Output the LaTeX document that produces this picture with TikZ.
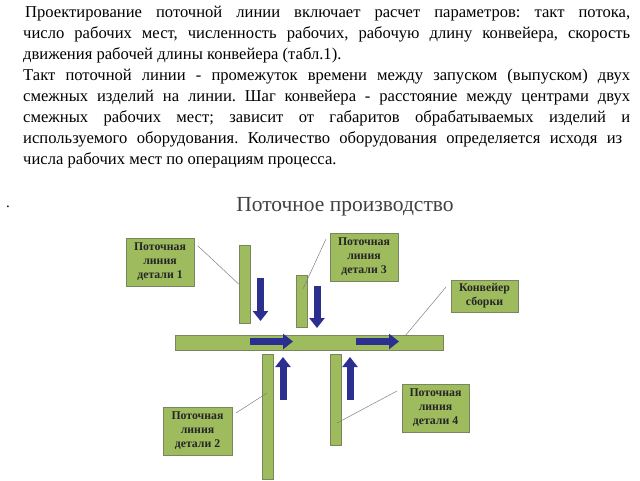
\documentclass[tikz,border=0pt]{standalone}
\usepackage{fontspec}
\setmainfont{Liberation Serif}
\usetikzlibrary{arrows.meta}

\definecolor{barGreen}{HTML}{9EBB5E}
\definecolor{barEdge}{HTML}{77865F}
\definecolor{flowBlue}{HTML}{2B2F8F}
\definecolor{titleGray}{HTML}{404040}

\tikzset{
	bar/.style={draw=barEdge, fill=barGreen, line width=0.8pt, inner sep=0pt},
	labelbox/.style={draw=barEdge, fill=barGreen, line width=0.8pt, inner sep=0pt,
		align=center, font=\fontsize{11.8}{14}\selectfont\bfseries, text=black!85},
	flow/.style={flowBlue, line width=7pt, -{Triangle[length=10pt,width=15pt]}},
	callout/.style={gray, line width=0.5pt}
}

\begin{document}
\frenchspacing
\begin{tikzpicture}[x=1pt, y=-1pt]
	\useasboundingbox (0,0) rectangle (640,480);
	
	% Text above the diagram
	\node[anchor=north west, inner sep=0pt] (intro) at (23,6) {\parbox{607pt}{%
		\fontsize{16.6}{21}\selectfont
		\hspace*{2pt}Проектирование поточной линии включает расчет параметров: такт потока,\linebreak
		число рабочих мест, численность рабочих, рабочую длину конвейера, скорость\linebreak
		движения рабочей длины конвейера (табл.1).\\
		Такт поточной линии - промежуток времени между запуском (выпуском) двух\linebreak
		смежных изделий на линии. Шаг конвейера - расстояние между центрами двух\linebreak
		смежных рабочих мест; зависит от габаритов обрабатываемых изделий и\linebreak
		используемого оборудования. Количество оборудования определяется исходя из\hspace*{8pt}\linebreak
		числа рабочих мест по операциям процесса.}};
	\node[font=\fontsize{15}{18}\selectfont] (dot) at (8,207) {.};
	
	% Title
	\node[font=\fontsize{21.5}{24}\selectfont, text=titleGray] (title) at (345,207) {Поточное производство};
	
	% Conveyor and lines
	\node[bar, minimum width=268pt, minimum height=15pt] (conv) at (309,342.5) {};
	\node[bar, minimum width=11pt, minimum height=78pt] (line1) at (244.5,284) {};
	\node[bar, minimum width=11pt, minimum height=52pt] (line3) at (301.5,301) {};
	\node[bar, minimum width=11pt, minimum height=125pt] (line2) at (267.5,416.5) {};
	\node[bar, minimum width=11pt, minimum height=91pt] (line4) at (335.5,399.5) {};
	
	% Flow arrows
	\draw[flow] (260.5,278) -- (260.5,321);
	\draw[flow] (317,286) -- (317,328);
	\draw[flow] (283,400) -- (283,357);
	\draw[flow] (350,400) -- (350,357);
	\draw[flow] (250,341.5) -- (293,341.5);
	\draw[flow] (356,341.5) -- (399,341.5);
	
	% Labels
	\node[labelbox, minimum width=68pt, minimum height=48pt] (lab1) at (160,262) {Поточная\\линия\\детали 1};
	\node[labelbox, minimum width=68pt, minimum height=48pt] (lab3) at (364,257) {Поточная\\линия\\детали 3};
	\node[labelbox, minimum width=67pt, minimum height=32pt] (labc) at (484.5,296) {Конвейер\\сборки};
	\node[labelbox, minimum width=69pt, minimum height=48pt] (lab2) at (197.5,431) {Поточная\\линия\\детали 2};
	\node[labelbox, minimum width=67pt, minimum height=48pt] (lab4) at (435.5,408) {Поточная\\линия\\детали 4};
	
	% Callouts
	\coordinate (c1) at (198,246);
	\coordinate (c3) at (326,239);
	\coordinate (cc) at (446,287);
	\coordinate (c2) at (236,413);
	\coordinate (c4) at (397,391);
	\coordinate (p3) at (303,289);
	\coordinate (pc) at (405,336);
	\coordinate (p2) at (267,393);
	\coordinate (p4) at (337,423);
	\draw[callout] (c1) -- (line1.west);
	\draw[callout] (c3) -- (p3);
	\draw[callout] (cc) -- (pc);
	\draw[callout] (c2) -- (p2);
	\draw[callout] (c4) -- (p4);
	
\end{tikzpicture}
\end{document}
